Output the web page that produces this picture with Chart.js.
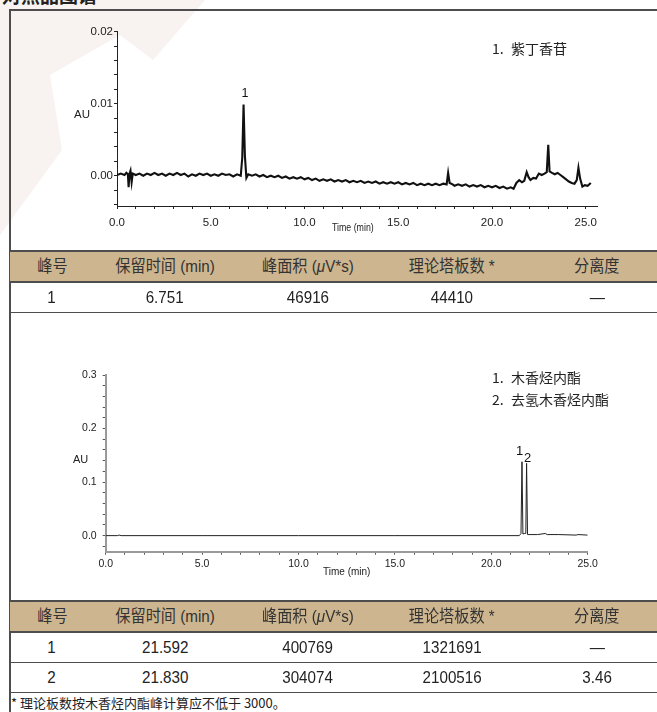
<!DOCTYPE html>
<html>
<head>
<meta charset="utf-8">
<script src="https://cdn.jsdelivr.net/npm/chart.js@4.4.1/dist/chart.umd.min.js"></script>
<style>
body{margin:0;width:657px;height:712px;position:relative;overflow:hidden;background:#fff;
  font-family:"Liberation Sans",Arial,"Noto Sans CJK SC",sans-serif;color:#222}
canvas{position:absolute}
.line{position:absolute;left:10px;width:647px;height:1.5px;background:#4d4d4d}
.band{position:absolute;left:10px;width:647px;height:30px;background:#cdb58f}
.cell{position:absolute;width:180px;text-align:center;height:30px;line-height:30px;
  font-family:"Liberation Sans","Noto Sans CJK SC",sans-serif;font-size:16.5px;color:#222;white-space:nowrap}
.cell span{display:inline-block;transform:scaleX(0.92)}
.band .cell{color:#333}
.leg{position:absolute;font-family:"Noto Sans CJK SC",sans-serif;font-size:14px;line-height:20px;color:#222;white-space:nowrap}
.ax{position:absolute;font-size:11px;line-height:12px;color:#222;white-space:nowrap;transform-origin:0 50%}
</style>
</head>
<body>
<svg width="657" height="712" style="position:absolute;left:0;top:0">
  <polygon points="0,0 205,0 153,60 120,35 50,75 62,150 0,235" fill="#f8f3f0"/>
</svg>
<div style="position:absolute;left:2px;top:-15px;font-family:'Noto Sans CJK SC';font-weight:bold;font-size:19px;line-height:19px">对照品图谱</div>
<div style="position:absolute;left:9px;top:9px;width:648px;height:1.5px;background:#4d4d4d"></div>
<div style="position:absolute;left:9px;top:9px;width:1.5px;height:703px;background:#4d4d4d"></div>

<canvas id="c1" width="647" height="239" style="left:10px;top:11px"></canvas>
<canvas id="c2" width="647" height="287" style="left:10px;top:313px"></canvas>

<div class="ax" style="left:74px;top:108px;font-size:11.5px">AU</div>
<div class="ax" style="left:332px;top:221px;font-size:11px;transform:scaleX(0.8)">Time (min)</div>
<div class="leg" style="left:492px;top:38px">1.</div><div class="leg" style="left:511px;top:38px">紫丁香苷</div>

<div class="ax" style="left:73px;top:453px;font-size:11px">AU</div>
<div class="ax" style="left:323px;top:566px;font-size:10px">Time (min)</div>
<div class="leg" style="left:492px;top:367px">1.</div><div class="leg" style="left:511px;top:367px">木香烃内酯</div>
<div class="leg" style="left:492px;top:389px">2.</div><div class="leg" style="left:511px;top:389px">去氢木香烃内酯</div>

<div id="tables"></div>
<div style="position:absolute;left:11px;top:694px;font-family:'Noto Sans CJK SC';font-size:13px;line-height:18px;color:#222">* 理论板数按木香烃内酯峰计算应不低于 3000。</div>

<script>
// chromatogram 1 (紫丁香苷)
const times1 = [0.0,0.2,0.4,0.5,0.58,0.62,0.66,0.72,0.78,0.84,1.0,1.2,1.4,1.6,1.8,2.0,2.2,2.4,2.6,2.8,
  3.0,3.2,3.4,3.6,3.8,4.0,4.2,4.4,4.6,4.8,5.0,5.2,5.4,5.6,5.8,6.0,6.2,6.4,6.6,6.68,6.75,6.82,6.9,
  7.0,7.2,7.4,7.6,7.8,8.0,8.2,8.4,8.6,8.8,9.0,9.2,9.4,9.6,9.8,10.0,10.2,10.4,10.6,10.8,
  11.0,11.2,11.4,11.6,11.8,12.0,12.2,12.4,12.6,12.8,13.0,13.2,13.4,13.6,13.8,14.0,14.2,14.4,14.6,14.8,
  15.0,15.2,15.4,15.6,15.8,16.0,16.2,16.4,16.6,16.8,17.0,17.2,17.4,17.58,17.66,17.74,17.9,
  18.0,18.2,18.4,18.6,18.8,19.0,19.2,19.4,19.6,19.8,20.0,20.2,20.4,20.6,20.8,21.0,21.15,21.3,21.45,
  21.6,21.72,21.85,21.95,22.05,22.2,22.35,22.5,22.65,22.8,22.92,23.0,23.07,23.2,23.35,23.5,23.65,
  23.8,23.95,24.1,24.25,24.4,24.52,24.61,24.7,24.82,24.95,25.1,25.27];
const au1 = [0.0001,0.0003,0.0001,0.0004,0.0002,-0.0016,0.0002,0.0007,-0.0009,0.0003,0.0001,0.0003,0.0000,0.0003,0.0001,0.0004,0.0001,0.0003,0.0000,0.0003,
  0.0001,0.0004,0.0001,0.0003,-0.0001,0.0002,0.0000,0.0003,0.0001,0.0003,0.0000,0.0002,0.0000,0.0003,0.0001,0.0002,-0.0001,0.0002,0.0000,0.0025,0.0099,0.0028,-0.0003,
  0.0002,0.0000,0.0002,-0.0001,0.0001,-0.0002,0.0000,-0.0002,0.0000,-0.0003,-0.0001,-0.0004,-0.0002,-0.0004,-0.0002,-0.0005,-0.0003,-0.0006,-0.0004,-0.0007,
  -0.0005,-0.0007,-0.0005,-0.0008,-0.0006,-0.0008,-0.0006,-0.0009,-0.0007,-0.0009,-0.0007,-0.0010,-0.0008,-0.0010,-0.0008,-0.0011,-0.0009,-0.0011,-0.0009,-0.0011,
  -0.0009,-0.0012,-0.0010,-0.0012,-0.0010,-0.0013,-0.0011,-0.0013,-0.0011,-0.0013,-0.0011,-0.0013,-0.0011,-0.0012,0.0004,-0.0010,-0.0012,
  -0.0014,-0.0012,-0.0014,-0.0012,-0.0015,-0.0013,-0.0015,-0.0013,-0.0016,-0.0014,-0.0016,-0.0014,-0.0017,-0.0015,-0.0018,-0.0016,-0.0018,-0.0010,-0.0006,
  -0.0009,-0.0007,0.0005,-0.0002,-0.0006,-0.0003,-0.0004,0.0003,0.0001,0.0003,0.0005,0.0043,0.0006,0.0004,0.0002,0.0004,0.0001,
  -0.0002,-0.0005,-0.0008,-0.0010,-0.0011,-0.0006,0.0011,-0.0004,-0.0015,-0.0013,-0.0014,-0.0010];

// chromatogram 2 (木香烃内酯 / 去氢木香烃内酯)
const times2 = [0.0,0.6,0.7,0.8,5.0,10.0,15.0,21.45,21.54,21.592,21.64,21.71,21.79,21.83,21.88,21.96,22.4,22.8,22.9,23.5,24.4,24.5,25.0];
const au2 = [0.000,0.000,0.001,0.000,0.000,0.000,0.000,0.000,0.004,0.138,0.003,0.004,0.004,0.135,0.002,0.002,0.002,0.004,0.002,0.002,0.001,0.002,0.001];

const xTicks = [0,1,2,3,4,5,6,7,8,9,10,11,12,13,14,15,16,17,18,19,20,21,22,23,24,25];
const yTicks1 = [-0.004,-0.002,0,0.002,0.004,0.006,0.008,0.01,0.012,0.014,0.016,0.018,0.02];
const yTicks2 = [-0.02,0,0.02,0.04,0.06,0.08,0.1,0.12,0.14,0.16,0.18,0.2,0.22,0.24,0.26,0.28,0.3];

const peakNames1 = ['1'];
const peakTimes1 = [6.751];
const peakTops1 = [0.0099];
const peakNames2 = ['1','2'];
const peakTimes2 = [21.592,21.830];
const peakTops2 = [0.138,0.135];

const headers = ['峰号','保留时间 (min)','峰面积 (<i>μ</i>V*s)','理论塔板数 *','分离度'];
const rows1 = [['1','6.751','46916','44410','—']];
const rows2 = [['1','21.592','400769','1321691','—'],['2','21.830','304074','2100516','3.46']];

const peakText = {
  id:'peakText',
  afterDatasetsDraw(chart, args, o){
    const ctx = chart.ctx;
    ctx.save();
    ctx.fillStyle = '#111';
    ctx.font = o.size + 'px "Liberation Sans", Arial';
    ctx.textAlign = 'center';
    ctx.textBaseline = 'alphabetic';
    o.names.forEach((n,i)=>{
      const x = chart.scales.x.getPixelForValue(o.times[i]) + o.dx[i];
      const y = chart.scales.y.getPixelForValue(o.tops[i]) + o.dy[i];
      ctx.fillText(n, x, y);
    });
    ctx.restore();
  }
};

function chrom(id, c){
  return new Chart(document.getElementById(id), {
    type:'line',
    data:{datasets:[{
      data:c.t.map((t,i)=>({x:t,y:c.v[i]})),
      borderColor:c.lineColor, borderWidth:c.lineWidth, pointRadius:0, tension:0, fill:false
    }]},
    plugins:[peakText],
    options:{
      responsive:false, animation:false, events:[],
      layout:{padding:{left:0,right:c.padRight,top:c.padTop,bottom:0}},
      plugins:{legend:{display:false}, tooltip:{enabled:false}, peakText:c.labels},
      scales:{
        x:{type:'linear', min:0, max:c.xMax,
          afterBuildTicks:a=>{a.ticks = xTicks.map(v=>({value:v}));},
          afterFit:a=>{a.height = c.xHeight;},
          ticks:{autoSkip:false, maxRotation:0, padding:c.xPad, color:'#222',
            font:{family:'Liberation Sans', size:c.fs},
            callback:v=> v%5===0 ? v.toFixed(1) : ''},
          grid:{drawOnChartArea:false, tickLength:c.tl, tickColor:c.tickColor, tickWidth:1},
          border:{color:c.axisColor, width:c.axisWidth}},
        y:{type:'linear', min:c.yMin, max:c.yMax,
          afterBuildTicks:a=>{a.ticks = c.yTicks.map(v=>({value:v}));},
          afterFit:a=>{a.width = c.yWidth;},
          ticks:{autoSkip:false, padding:c.yPad, color:'#222',
            font:{family:'Liberation Sans', size:c.fs},
            callback:v=>{ const k=v/c.major; return Math.abs(k-Math.round(k))<1e-6 ? v.toFixed(c.dec) : ''; }},
          grid:{drawOnChartArea:false, tickLength:c.tl, tickColor:c.tickColor, tickWidth:1},
          border:{color:c.axisColor, width:c.axisWidth}}
      }
    }
  });
}

chrom('c1', {t:times1, v:au1, lineColor:'#111', lineWidth:2.1,
  padRight:60, padTop:20.7, xHeight:44, yWidth:107, xMax:25.6, yMin:-0.0042, yMax:0.02,
  yTicks:yTicks1, major:0.01, dec:2, fs:11.5, xPad:7, yPad:1, tl:3, tickColor:'#222', axisColor:'#222', axisWidth:1,
  labels:{names:peakNames1, times:peakTimes1, tops:peakTops1, dx:[1.5], dy:[-7], size:12.5}});

chrom('c2', {t:times2, v:au2, lineColor:'#222', lineWidth:1,
  padRight:69.3, padTop:62, xHeight:48.3, yWidth:95.7, xMax:25, yMin:-0.03, yMax:0.3,
  yTicks:yTicks2, major:0.1, dec:1, fs:10.5, xPad:3, yPad:6, tl:3, tickColor:'#555', axisColor:'#9a9a9a', axisWidth:2,
  labels:{names:peakNames2, times:peakTimes2, tops:peakTops2, dx:[-2.5,1], dy:[-6.5,-1.5], size:13}});

// tables
const colCenters = [52,165,308,452,597];
function table(top, rows){
  let s = `<div class="band" style="top:${top}px">` +
    headers.map((h,i)=>`<div class="cell" style="left:${colCenters[i]-100}px;top:0"><span>${h}</span></div>`).join('') + '</div>';
  s += `<div class="line" style="top:${top-1}px"></div><div class="line" style="top:${top+30}px"></div>`;
  rows.forEach((r,j)=>{
    const y = top + 30*(j+1) + 0.5;
    s += r.map((v,i)=>`<div class="cell" style="left:${colCenters[i]-90}px;top:${y}px"><span>${v}</span></div>`).join('');
    s += `<div class="line" style="top:${y+30}px"></div>`;
  });
  return s;
}
document.getElementById('tables').innerHTML = table(251, rows1) + table(601, rows2);
</script>
</body>
</html>
